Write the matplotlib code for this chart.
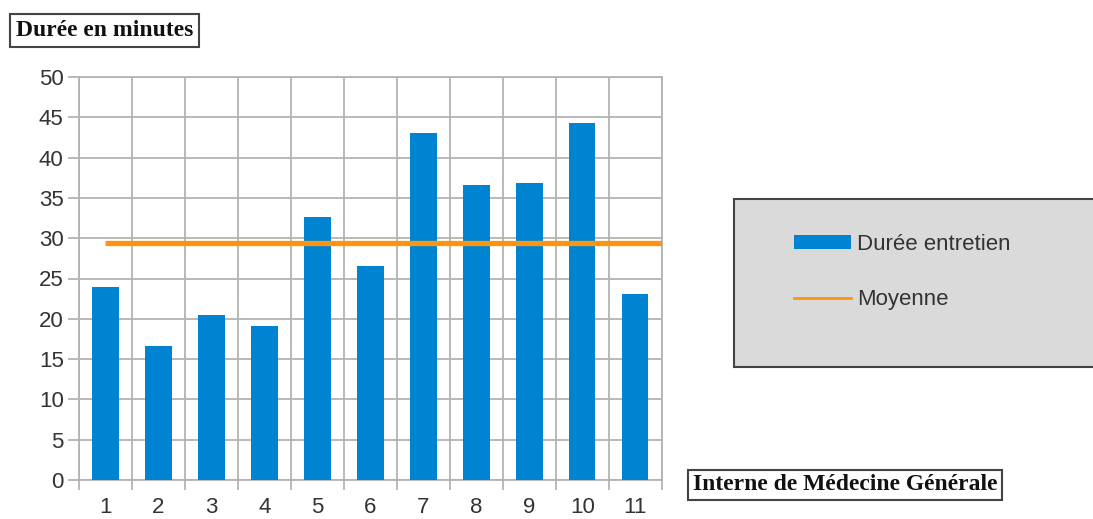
import matplotlib

matplotlib.use("Agg")
import matplotlib.pyplot as plt
import numpy as np
from matplotlib.lines import Line2D
from matplotlib.patches import Patch, Rectangle

# values
internes = ["1", "2", "3", "4", "5", "6", "7", "8", "9", "10", "11"]
durees = [23.9, 16.6, 20.5, 19.1, 32.6, 26.5, 43.0, 36.6, 36.8, 44.3, 23.1]
moyenne = np.mean(durees)
y_ticks = [0, 5, 10, 15, 20, 25, 30, 35, 40, 45, 50]

BLUE = "#0084D1"
ORANGE = "#FF950E"
GRID = "#B3B3B3"
INK = "#333333"

plt.rcParams.update({"font.family": ["Liberation Sans", "DejaVu Sans"], "font.size": 16})

fig = plt.figure(figsize=(10.93, 5.19), dpi=100)
ax = fig.add_axes([79 / 1093, 1 - 480 / 519, (661.7 - 79) / 1093, (480 - 77) / 519])

x = np.arange(1, len(durees) + 1)
ax.bar(x, durees, width=0.5, color=BLUE, zorder=3)
ax.hlines(moyenne, x[0], len(durees) + 0.5, color=ORANGE, linewidth=3.8, zorder=4)

ax.set_xlim(0.5, len(durees) + 0.5)
ax.set_ylim(0, 50)
ax.set_xticks(x)
ax.set_xticklabels(internes)
ax.set_xticks(np.arange(0.5, len(durees) + 1), minor=True)
ax.set_yticks(y_ticks)

ax.tick_params(axis="x", which="major", length=0, pad=12, labelcolor=INK, labelsize=16)
ax.tick_params(axis="x", which="minor", length=7, width=1.3, color=GRID, direction="out")
ax.tick_params(axis="y", length=8, width=1.3, color=GRID, pad=3, labelcolor=INK, labelsize=16)
ax.grid(axis="y", which="major", color=GRID, linewidth=1.3, zorder=0)
ax.grid(axis="x", which="minor", color=GRID, linewidth=1.3, zorder=0)
ax.set_axisbelow(True)
for sp in ax.spines.values():
    sp.set_color(GRID)
    sp.set_linewidth(1.3)

# legend panel (runs off the right edge like the original)
fig.patches.append(
    Rectangle(
        (734 / 1093, 1 - 367 / 519),
        (1100 - 734) / 1093,
        (367 - 199) / 519,
        transform=fig.transFigure,
        facecolor="#DADADA",
        edgecolor="#444444",
        linewidth=1.5,
        zorder=1,
    )
)
handles = [
    Patch(facecolor=BLUE, edgecolor="none", label="Durée entretien"),
    Line2D([], [], color=ORANGE, linewidth=2, label="Moyenne"),
]
fig.legend(
    handles=handles,
    loc="upper left",
    bbox_to_anchor=(794 / 1093, 1 - 234 / 519),
    frameon=False,
    fontsize=16,
    handlelength=2.57,
    handleheight=0.63,
    handletextpad=0.28,
    labelspacing=1.55,
    borderpad=0,
    borderaxespad=0,
    labelcolor=INK,
)

box = dict(boxstyle="square,pad=0.25", facecolor="white", edgecolor="#444444", linewidth=1.5)
fig.text(104.5 / 1093, 1 - 30.5 / 519, "Durée en minutes", ha="center", va="center",
         family="Liberation Serif", fontweight="bold", fontsize=17, color="#111111", bbox=box)
box2 = dict(box, boxstyle="square,pad=0.2")
fig.text(845 / 1093, 1 - 485 / 519, "Interne de Médecine Générale", ha="center", va="center",
         family="Liberation Serif", fontweight="bold", fontsize=17, color="#111111", bbox=box2)

fig.savefig("out.png", dpi=100, facecolor="white")
